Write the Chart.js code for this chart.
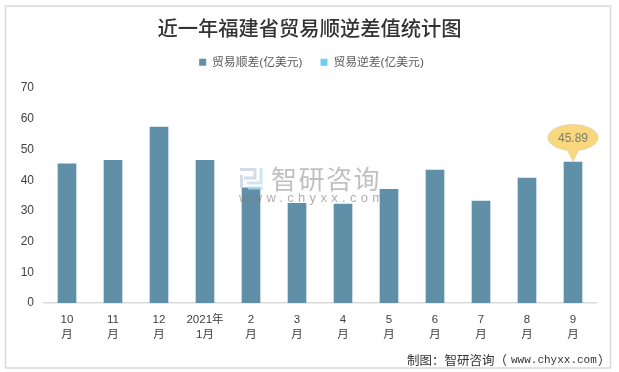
<!DOCTYPE html>
<html>
<head>
<meta charset="utf-8">
<style>
  html, body { margin: 0; padding: 0; background: #fff; }
  #wrap { width: 619px; height: 372px; }
</style>
</head>
<body>
<div id="wrap"><canvas id="chart" width="619" height="372"></canvas></div>
<script src="https://cdn.jsdelivr.net/npm/chart.js@4/dist/chart.umd.min.js"></script>
<script>
const titleText = '近一年福建省贸易顺逆差值统计图';
const months = [['10', '月'], ['11', '月'], ['12', '月'], ['2021年', '1月'], ['2', '月'], ['3', '月'],
                ['4', '月'], ['5', '月'], ['6', '月'], ['7', '月'], ['8', '月'], ['9', '月']];
const surplus = [45.3, 46.5, 57.3, 46.5, 37.5, 32.5, 32.2, 37, 43.3, 33.2, 40.7, 45.89];
const deficit = [null, null, null, null, null, null, null, null, null, null, null, null];
const surplusName = '贸易顺差(亿美元)';
const deficitName = '贸易逆差(亿美元)';

const sansFont = '"Liberation Sans", "Noto Sans CJK SC", sans-serif';

// outer frame, goes under everything. Also nudges title and legend into place
const framePlugin = {
    id: 'frame',
    beforeInit(chart) {
        const fit = chart.legend.fit;
        chart.legend.fit = function () {
            fit.call(this);
            this.height += 8;
        };
    },
    afterLayout(chart) {
        chart.titleBlock.left += 2;
        chart.titleBlock.right += 2;
        chart.legend.left += 4;
        chart.legend.right += 4;
        chart.legend.top -= 2;
    },
    beforeDraw(chart) {
        const ctx = chart.ctx;
        ctx.save();
        ctx.strokeStyle = '#d9d9d9';
        ctx.lineWidth = 1.5;
        ctx.strokeRect(5.5, 6, 605, 362);
        ctx.restore();
    }
};

// watermark, callout on the last bar, source line
const extrasPlugin = {
    id: 'extras',
    afterDatasetsDraw(chart) {
        const ctx = chart.ctx;
        const last = surplus.length - 1;
        const bx = chart.scales.x.getPixelForValue(last);
        const by = chart.scales.y.getPixelForValue(surplus[last]);

        ctx.save();
        // logo
        ctx.globalAlpha = 0.75;
        ctx.lineWidth = 3;
        ctx.strokeStyle = '#c5cde0';
        ctx.beginPath();
        ctx.moveTo(240, 169.5); ctx.lineTo(255, 169.5); ctx.lineTo(255, 178); ctx.lineTo(244, 178);
        ctx.moveTo(241.5, 175); ctx.lineTo(241.5, 188);
        ctx.stroke();
        ctx.strokeStyle = '#bcdcf0';
        ctx.beginPath();
        ctx.moveTo(261, 168); ctx.lineTo(261, 183); ctx.lineTo(247, 183);
        ctx.moveTo(248, 188); ctx.lineTo(263, 188);
        ctx.stroke();
        ctx.globalAlpha = 1;

        // watermark text
        ctx.textAlign = 'left';
        ctx.textBaseline = 'middle';
        ctx.fillStyle = 'rgba(150,150,150,0.6)';
        ctx.font = '26px "Noto Sans CJK SC", sans-serif';
        ctx.letterSpacing = '1.5px';
        ctx.fillText('智研咨询', 271, 179);
        ctx.font = '13px "Liberation Sans", sans-serif';
        ctx.letterSpacing = '4.3px';
        ctx.fillStyle = 'rgba(120,120,120,0.6)';
        ctx.fillText('www.chyxx.com', 239, 198);
        ctx.letterSpacing = '0px';

        // callout
        ctx.fillStyle = '#f9d77e';
        ctx.strokeStyle = '#e3d3a8';
        ctx.lineWidth = 1;
        const cy = by - 24.5;
        ctx.beginPath();
        ctx.ellipse(bx, cy, 25, 13, 0, Math.PI * 0.57, Math.PI * 0.43);
        ctx.lineTo(bx, by - 1);
        ctx.closePath();
        ctx.fill();
        ctx.stroke();
        ctx.fillStyle = '#7f7f6a';
        ctx.textAlign = 'center';
        ctx.font = '12px "Liberation Sans", sans-serif';
        ctx.fillText(surplus[last].toFixed(2), bx, cy + 1);

        // source line: CJK part and mono url have different widths
        ctx.fillStyle = '#333333';
        ctx.textAlign = 'left';
        ctx.font = '12.5px "Noto Sans CJK SC", sans-serif';
        ctx.fillText('制图：智研咨询（', 407, 360);
        ctx.fillText('）', 598, 360);
        ctx.font = '11px "Liberation Mono", monospace';
        ctx.fillText('www.chyxx.com', 511, 360);
        ctx.restore();
    }
};

new Chart(document.getElementById('chart'), {
    type: 'bar',
    data: {
        labels: months,
        datasets: [
            { label: surplusName, data: surplus, backgroundColor: '#5f90a8', barThickness: 18 },
            { label: deficitName, data: deficit, backgroundColor: '#6fcdf5', barThickness: 18 }
        ]
    },
    options: {
        responsive: false,
        animation: false,
        layout: { padding: { left: 19, right: 23, top: 14, bottom: 20 } },
        plugins: {
            tooltip: { enabled: false },
            title: {
                display: true,
                text: titleText,
                color: '#333333',
                font: { family: '"Noto Sans CJK SC", serif', size: 20.3, weight: '500' },
                padding: { top: 2, bottom: 0 }
            },
            legend: {
                display: true,
                position: 'top',
                labels: {
                    boxWidth: 7,
                    boxHeight: 7,
                    color: '#595959',
                    padding: 18,
                    font: { family: sansFont, size: 11.8 }
                }
            }
        },
        scales: {
            x: {
                stacked: true,
                grid: { display: false, drawTicks: false },
                border: { color: '#d9d9d9', width: 1.5 },
                ticks: {
                    color: '#404040',
                    maxRotation: 0,
                    autoSkip: false,
                    padding: 9,
                    font: { family: sansFont, size: 11.5, lineHeight: 1.35 }
                }
            },
            y: {
                stacked: true,
                min: 0,
                max: 70,
                grid: { display: false, drawTicks: false },
                border: { display: false },
                afterFit(scale) { scale.width = 25; },
                ticks: {
                    stepSize: 10,
                    color: '#404040',
                    padding: 10,
                    font: { family: sansFont, size: 12 }
                }
            }
        }
    },
    plugins: [framePlugin, extrasPlugin]
});
</script>
</body>
</html>
